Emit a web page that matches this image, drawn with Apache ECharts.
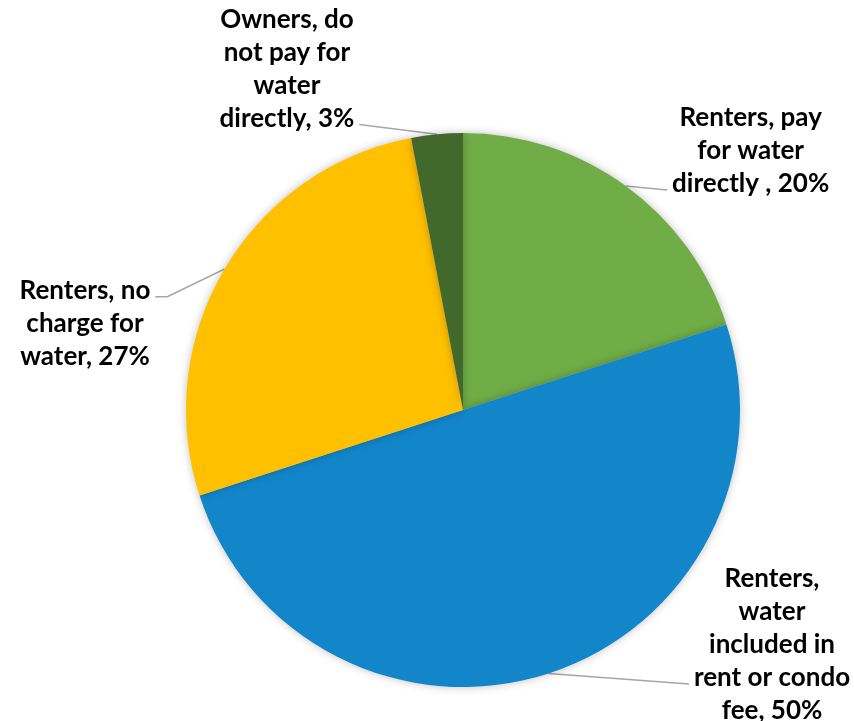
<!DOCTYPE html>
<html>
<head>
<meta charset="utf-8">
<script src="https://cdn.jsdelivr.net/npm/echarts@6/dist/echarts.min.js"></script>
<style>html,body{margin:0;padding:0;background:#fff}#c{width:854px;height:721px}</style>
</head>
<body>
<div id="c"></div>
<script>
const categories = [
  "Renters, pay for water directly",
  "Renters, water included in rent or condo fee",
  "Renters, no charge for water",
  "Owners, do not pay for water directly"
];
const values = [20, 50, 27, 3];
const labelTexts = [
  "Renters, pay\nfor water\ndirectly , 20%",
  "Renters,\nwater\nincluded in\nrent or condo\nfee, 50%",
  "Renters, no\ncharge for\nwater, 27%",
  "Owners, do\nnot pay for\nwater\ndirectly, 3%"
];
const colors = ["#70AD47", "#1386CA", "#FFC000", "#43682B"];
// label block centres (fraction of chart width/height)
const labelPos = [[0.879, 0.2094], [0.904, 0.8946], [0.0995, 0.449], [0.336, 0.0957]];
// which side of the label the leader line attaches to, and which text line
const leaderSide = ['left', 'left', 'right', 'right'];
const leaderLine = [2, 3, 0, 3];
const leaderElbow = [false, false, true, false];

const LH = 33;
const chart = echarts.init(document.getElementById('c'));
chart.setOption({
  animation: false,
  series: [{
    type: 'pie',
    center: [463, 410],
    radius: 277,
    startAngle: 90,
    clockwise: true,
    data: categories.map((n, i) => ({ name: n, value: values[i], itemStyle: { color: colors[i] } })),
    itemStyle: { shadowBlur: 8, shadowColor: 'rgba(0,0,0,0.25)' },
    label: {
      show: true,
      formatter: p => labelTexts[p.dataIndex],
      fontFamily: 'Lato, "Open Sans", sans-serif',
      fontWeight: 'bold',
      fontSize: 26,
      lineHeight: LH,
      color: '#000',
      align: 'center'
    },
    labelLine: { show: true, length: 10, length2: 10, lineStyle: { color: '#A6A6A6', width: 1.5 } },
    labelLayout: function (params) {
      const i = params.dataIndex;
      const cx = labelPos[i][0] * 854;
      const cy = labelPos[i][1] * 721;
      const w = params.labelRect.width;
      const h = params.labelRect.height;
      const nLines = labelTexts[i].split('\n').length;
      const ly = cy - h / 2 + LH * (leaderLine[i] + 0.5) + 6;
      const ex = leaderSide[i] === 'left' ? cx - w / 2 - 5 : cx + w / 2 + 5;
      const anchor = params.labelLinePoints[0];
      const pts = [anchor.slice()];
      if (leaderElbow[i]) {
        const dx = leaderSide[i] === 'left' ? -12 : 12;
        pts.push([ex + dx, ly]);
      } else {
        pts.push([ex, ly]);
      }
      pts.push([ex, ly]);
      return {
        x: cx,
        y: cy,
        align: 'center',
        verticalAlign: 'middle',
        labelLinePoints: pts
      };
    },
    emphasis: { disabled: true }
  }]
});
</script>
</body>
</html>
